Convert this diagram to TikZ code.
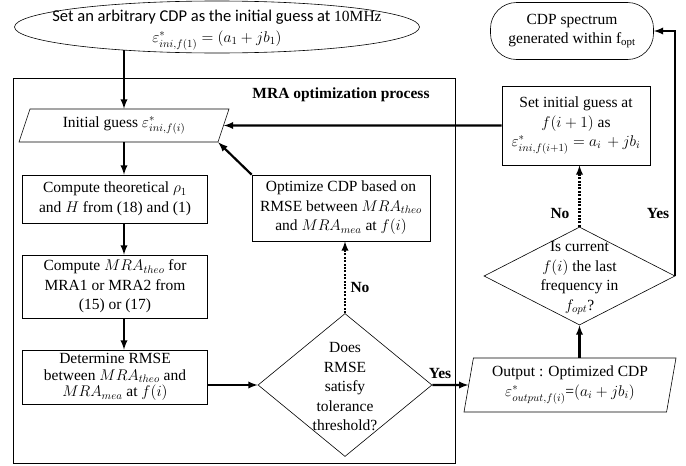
\RequirePackage{fix-cm}
\documentclass[tikz,border=0pt]{standalone}
\usepackage{amsmath}
\usepackage{fontspec}
\setmainfont{Liberation Serif}
\newfontfamily\califont{Carlito}
\usetikzlibrary{arrows,shapes.geometric}

\begin{document}
\begin{tikzpicture}[x=1pt,y=-1pt,
    every node/.style={font=\fontsize{15.5}{19.5}\selectfont},
    proc/.style={draw, line width=0.6pt, inner sep=0pt, align=center},
    io/.style={draw, trapezium, trapezium stretches body, line width=0.6pt, inner sep=0pt, align=center},
    decide/.style={draw, diamond, line width=0.6pt, inner sep=0pt},
    flow/.style={-latex, line width=2.2pt},
    flowdot/.style={flow, dash pattern=on 2pt off 1.4pt},
    lbl/.style={font=\fontsize{15.5}{19}\selectfont\bfseries}]

\useasboundingbox (0,0) rectangle (686,466);

% outer frame of the MRA loop
\draw[line width=0.6pt] (13,78) rectangle (455,463);
\node[lbl] (mralbl) at (341,95) {MRA optimization process};

% start and end
\node[draw, ellipse, line width=0.6pt, inner sep=0pt, minimum width=405pt, minimum height=52pt] (start) at (217,27) {};
\node[align=center, font=\fontsize{15.5}{20.5}\selectfont] (starttxt) at (217,30)
    {{\califont\fontsize{16.5}{20.5}\selectfont Set an arbitrary CDP as the initial guess at }10MHz\\ $\varepsilon^{*}_{ini,f(1)}=(a_1+jb_1)$};
\node[proc, rounded corners=26pt, minimum width=163pt, minimum height=57pt]
    (spec) at (572,31) {CDP spectrum\\generated within f$_{\mathrm{opt}}$};

% left column
\node[io, trapezium left angle=59, trapezium right angle=121, minimum width=210pt, minimum height=33pt]
    (init) at (124,125.5) {Initial guess $\varepsilon^{*}_{ini,f(i)}$};
\node[proc, minimum width=185pt, minimum height=48pt] (comp1) at (115,199) {Compute theoretical $\rho_1$\\and $H$ from (18) and (1)};
\node[proc, minimum width=185pt, minimum height=63pt] (comp2) at (115,286.5) {Compute $MRA_{theo}$ for\\MRA1 or MRA2 from\\(15) or (17)};
\node[proc, minimum width=185pt, minimum height=54pt, font=\fontsize{15.5}{16.5}\selectfont] (det) at (115,377) {Determine RMSE\\between $MRA_{theo}$ and\\$MRA_{mea}$ at $f(i)$};

% middle column
\node[proc, minimum width=178pt, minimum height=66pt] (opt) at (341,208) {Optimize CDP based on\\RMSE between $MRA_{theo}$\\and $MRA_{mea}$ at $f(i)$};
\node[decide, minimum width=174pt, minimum height=143pt] (dec) at (345,385) {};
\node[align=center] (dectxt) at (345,387) {Does\\RMSE\\satisfy\\tolerance\\threshold?};

% right column
\node[proc, minimum width=148pt, minimum height=79pt] (setg) at (576,125.5) {Set initial guess at\\$f(i+1)$ as\\$\varepsilon^{*}_{ini,f(i+1)}=a_i\,+jb_i$};
\node[decide, minimum width=191pt, minimum height=98pt] (isc) at (579.5,276) {};
\node[align=center] (isctxt) at (579.5,278) {Is current\\$f(i)$ the last\\frequency in\\$f_{opt}$?};
\node[io, trapezium left angle=76, trapezium right angle=104, minimum width=212pt, minimum height=54pt]
    (out) at (570,385) {Output : Optimized CDP\\$\varepsilon^{*}_{output,f(i)}$=$(a_i+jb_i)$};

% connectors
\draw[flow] ([yshift=3pt]start.south -| init.north) -- (init.north);
\draw[flow] (init.south) -- (init.south |- comp1.north);
\draw[flow] (init.south |- comp1.south) -- (init.south |- comp2.north);
\draw[flow] (init.south |- comp2.south) -- (init.south |- det.north);
\draw[flow] (det.east |- dec.west) -- (dec.west);
\draw[flowdot] (dec.north) -- (dec.north |- opt.south);
\draw[flow] (opt.north west) -- (init.bottom right corner);
\draw[flow] (dec.east) -- (out.west);
\draw[flow] (isc.south |- out.north) -- (isc.south);
\draw[flowdot] (isc.north) -- (isc.north |- setg.south);
\draw[flow] (setg.west) -- (init.east);
\draw[flow] (isc.east) |- (spec.east);

% branch labels
\node[lbl] (no1) at (360,287) {No};
\node[lbl] (yes1) at (440,373) {Yes};
\node[lbl] (no2) at (560,213) {No};
\node[lbl] (yes2) at (658,213) {Yes};

\end{tikzpicture}
\end{document}
